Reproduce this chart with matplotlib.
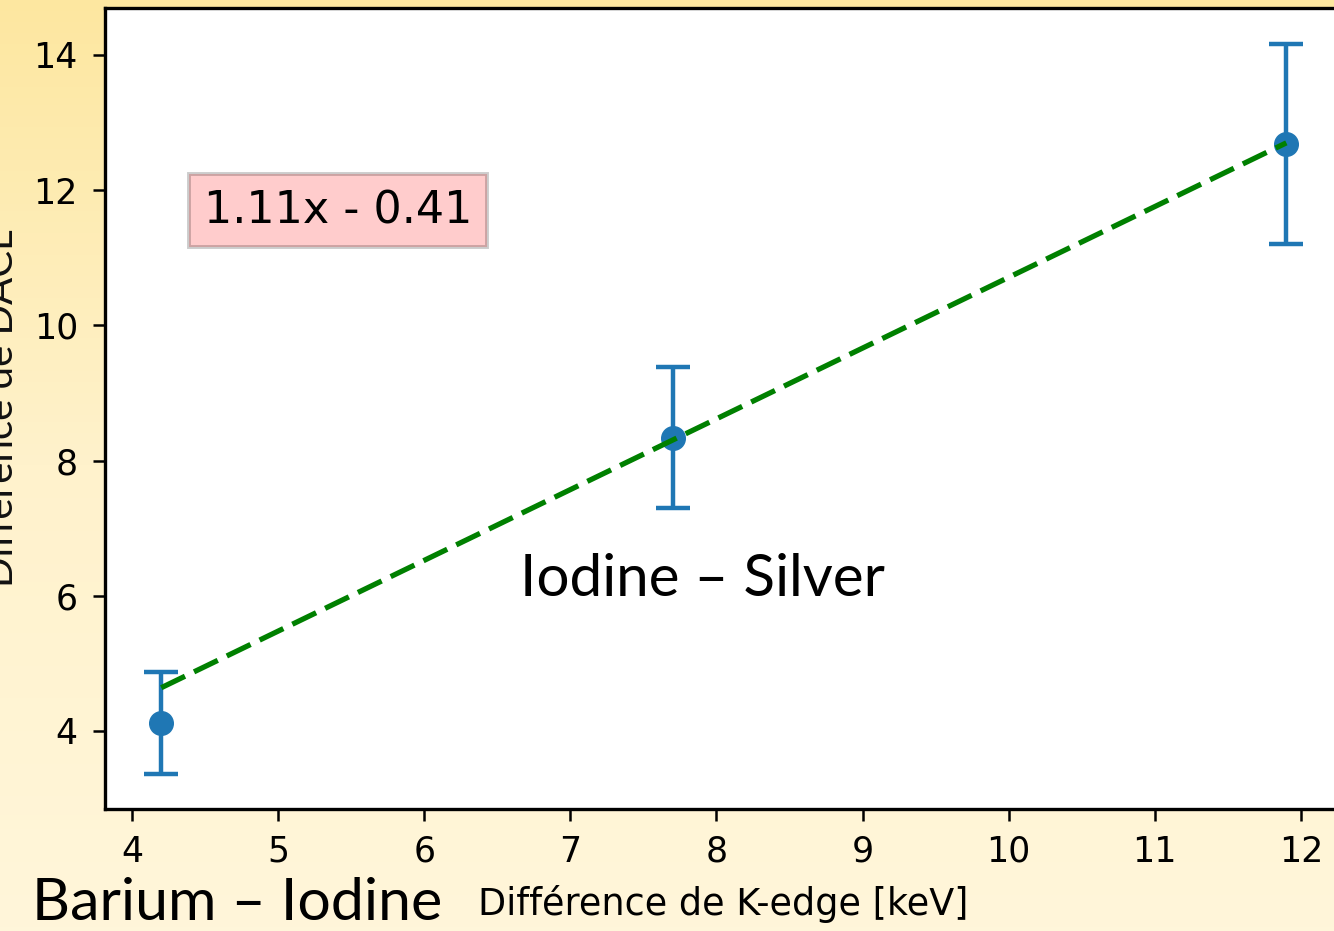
import numpy as np
import matplotlib
matplotlib.use("Agg")
import matplotlib.pyplot as plt
from matplotlib.colors import LinearSegmentedColormap

# Data
kedge_diff = [4.2, 7.7, 11.9]
dacl_diff = [4.12, 8.34, 12.68]
dacl_err = [0.76, 1.04, 1.48]
fit_x = [4.2, 11.9]
fit_y = [4.64, 12.70]
fit_label = "1.11x - 0.41"
xlabel = "Différence de K-edge [keV]"
ylabel = "Différence de DACL"
xticks = [4, 5, 6, 7, 8, 9, 10, 11, 12]
yticks = [4, 6, 8, 10, 12, 14]

W, H, DPI = 1334, 931, 100
fig = plt.figure(figsize=(W / DPI, H / DPI), dpi=DPI)

# slide background gradient
bg = fig.add_axes([0, 0, 1, 1], zorder=-10)
grad = np.linspace(0, 1, 256).reshape(-1, 1)
cmap = LinearSegmentedColormap.from_list("slide", ["#FDE7A0", "#FFF2CC", "#FFF6DA"])
bg.imshow(grad, aspect="auto", cmap=cmap, extent=[0, 1, 0, 1], origin="upper")
bg.set_axis_off()

left, right = 105 / W, 1342.6 / W
bottom, top = (H - 809) / H, (H - 8) / H
ax = fig.add_axes([left, bottom, right - left, top - bottom])
ax.set_facecolor("white")

ax.errorbar(kedge_diff, dacl_diff, yerr=dacl_err, fmt="o", color="#1f77b4",
            ms=17, elinewidth=3.2, capsize=12, capthick=3.2, zorder=3)
ax.plot(fit_x, fit_y, color="green", lw=3.8, dashes=(5.0, 1.9), zorder=4)

ax.set_xlim(3.815, 12.285)
ax.set_ylim(2.846, 14.695)
ax.set_xticks(xticks)
ax.set_yticks(yticks)
ax.tick_params(labelsize=25, length=8.5, width=1.8)
ax.tick_params(axis="x", pad=10)
ax.tick_params(axis="y", pad=11)
for s in ax.spines.values():
    s.set_linewidth(2.4)

ax.text(0.080, 0.747, fit_label, transform=ax.transAxes, fontsize=32,
        ha="left", va="center",
        bbox=dict(boxstyle="square,pad=0.33", facecolor="red", alpha=0.2,
                  edgecolor="black", linewidth=2.8))

# x label
fig.text(478 / W, 1 - 904 / H, xlabel, fontsize=26.3, ha="left", va="center")
# y label (cut off on the left, as in the slide)
fig.text(20 / W, 1 - 408 / H, ylabel, fontsize=29, rotation=90,
         ha="right", va="center", family="Lato", color="#111111")

# slide overlay texts
fig.text(520 / W, 1 - 579 / H, "Iodine – Silver", fontsize=42, family="Lato",
         ha="left", va="center")
fig.text(32 / W, 1 - 903 / H, "Barium – Iodine", fontsize=42.5, family="Lato",
         ha="left", va="center")

fig.savefig("out.png", dpi=DPI)
